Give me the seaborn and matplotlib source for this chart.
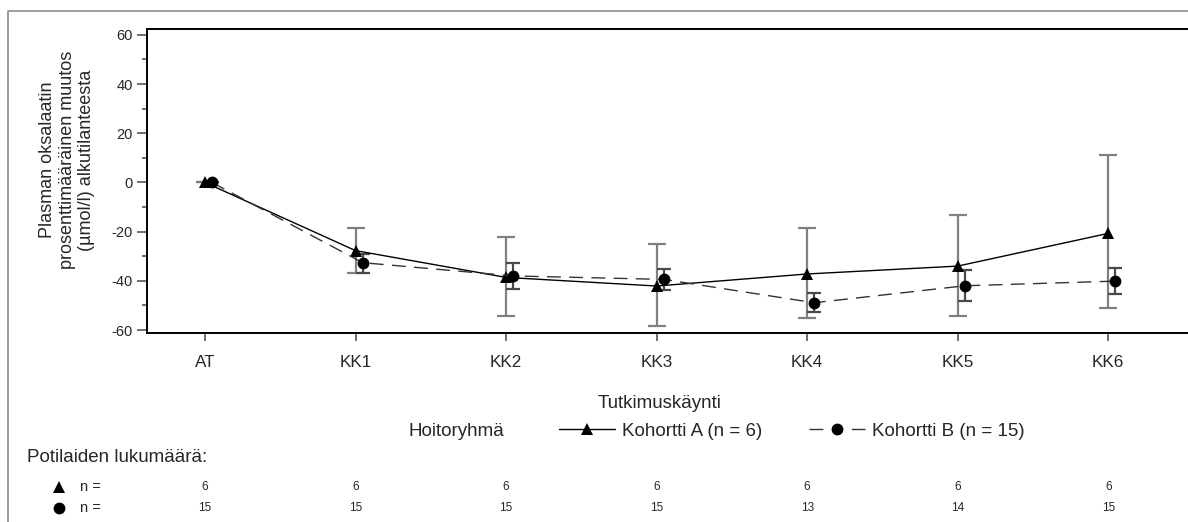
import numpy as np
import pandas as pd
import matplotlib
matplotlib.use("Agg")
import matplotlib.pyplot as plt
import matplotlib.transforms as mtransforms
from matplotlib.lines import Line2D
import seaborn as sns

# ---------------- data ----------------
visits = ["AT", "KK1", "KK2", "KK3", "KK4", "KK5", "KK6"]
a_mean = [0.0, -27.7, -38.6, -42.1, -37.2, -34.0, -20.7]
a_low = [0.0, -36.9, -54.2, -58.4, -55.0, -54.2, -51.2]
a_high = [0.0, -18.6, -22.3, -25.0, -18.4, -13.2, 11.1]
b_mean = [0.0, -32.6, -38.0, -39.4, -48.9, -42.0, -40.1]
b_low = [0.0, -36.9, -43.3, -43.7, -52.8, -48.1, -45.4]
b_high = [0.0, -29.1, -32.6, -35.3, -45.1, -35.6, -34.7]
n_a = [6, 6, 6, 6, 6, 6, 6]
n_b = [15, 15, 15, 15, 13, 14, 15]
label_a = "Kohortti A (n = 6)"
label_b = "Kohortti B (n = 15)"
ylabel = "Plasman oksalaatin\nprosenttimääräinen muutos\n(µmol/l) alkutilanteesta"
xlabel = "Tutkimuskäynti"
legend_title = "Hoitoryhmä"
count_title = "Potilaiden lukumäärä:"

# ---------------- style ----------------
sns.set_style("ticks")
plt.rcParams["font.family"] = ["Liberation Sans", "DejaVu Sans"]
plt.rcParams["axes.unicode_minus"] = False

W, H = 1188, 522
fig = plt.figure(figsize=(W / 100, H / 100), dpi=100)
ax = fig.add_axes([147 / W, 1 - 333 / H, 1 - 147 / W, (333 - 29) / H])

pos = np.arange(len(visits), dtype=float)
off_b = 0.047
df_a = pd.DataFrame({"x": pos, "y": a_mean})
df_b = pd.DataFrame({"x": pos + off_b, "y": b_mean})

# error bars
ax.errorbar(pos, a_mean,
            yerr=[np.array(a_mean) - np.array(a_low), np.array(a_high) - np.array(a_mean)],
            fmt="none", ecolor="#808080", elinewidth=1.6, capsize=6.5, capthick=1.6, zorder=2)
ax.errorbar(pos + off_b, b_mean,
            yerr=[np.array(b_mean) - np.array(b_low), np.array(b_high) - np.array(b_mean)],
            fmt="none", ecolor="#4a4a4a", elinewidth=1.6, capsize=5, capthick=1.6, zorder=2)

# lines with markers
sns.lineplot(data=df_a, x="x", y="y", ax=ax, color="black", linewidth=1.0,
             marker="^", markersize=8, markeredgewidth=0, estimator=None, sort=False,
             zorder=3)
sns.lineplot(data=df_b, x="x", y="y", ax=ax, color="#333333", linewidth=1.0,
             marker="o", markersize=8.5, markeredgewidth=0, markerfacecolor="black",
             estimator=None, sort=False, zorder=3)
ax.lines[-1].set_dashes((10, 6))

ax.set_xlim(-0.385, 6.53)
ax.set_ylim(-61.2, 62.4)
ax.set_xticks(pos)
ax.set_xticklabels(visits)
ax.set_yticks(np.arange(-60, 61, 20))
ax.set_yticks(np.arange(-50, 60, 20), minor=True)
ax.tick_params(axis="y", which="major", length=7, width=1.2, color="#555555",
               labelsize=10.5, pad=3)
ax.tick_params(axis="y", which="minor", length=3.5, width=1.2, color="#555555")
ax.tick_params(axis="x", which="major", length=6, width=1.2, color="#555555",
               labelsize=12.3, pad=10)
ax.set_xlabel("")
ax.set_ylabel("")
for s in ["left", "bottom", "top"]:
    ax.spines[s].set_linewidth(1.4)
    ax.spines[s].set_color("black")
ax.spines["right"].set_visible(False)

# outer frame (top + left)
fig.add_artist(Line2D([8 / W, 8 / W, 1.0], [0.0, 1 - 11 / H, 1 - 11 / H],
                      transform=fig.transFigure, color="#8a8a8a", linewidth=1.2))

# y label
fig.text(67 / W, 1 - 160 / H, ylabel, rotation=90, ha="center", va="center",
         multialignment="center", fontsize=13, linespacing=1.2)

# x label
fig.text(660 / W, 1 - 403 / H, xlabel, ha="center", va="center", fontsize=13.5)

# legend
fig.text(408 / W, 1 - 431 / H, legend_title, ha="left", va="center", fontsize=13.5)
h_a = Line2D([], [], color="black", linewidth=1.0, marker="^", markersize=8,
             markeredgewidth=0)
h_b = Line2D([], [], color="#333333", linewidth=1.0, marker="o", markersize=8.5,
             markeredgewidth=0, markerfacecolor="black", dashes=(10, 20.5))
fig.legend([h_a, h_b], [label_a, label_b], loc="center left",
           bbox_to_anchor=(559 / W, 1 - 431 / H), ncol=2, frameon=False,
           fontsize=13.5, handlelength=3.0, handletextpad=0.35, columnspacing=2.5,
           borderpad=0, borderaxespad=0)

# patient counts
fig.text(27 / W, 1 - 457 / H, count_title, ha="left", va="center", fontsize=13.5)
fig.add_artist(Line2D([59 / W], [1 - 487 / H], marker="^", markersize=8.5, color="black",
                      markeredgewidth=0, linestyle="none", transform=fig.transFigure))
fig.add_artist(Line2D([59 / W], [1 - 508 / H], marker="o", markersize=8.5, color="black",
                      markeredgewidth=0, linestyle="none", transform=fig.transFigure))
fig.text(80 / W, 1 - 487 / H, "n =", ha="left", va="center", fontsize=10.5)
fig.text(80 / W, 1 - 508 / H, "n =", ha="left", va="center", fontsize=10.5)
trans = mtransforms.blended_transform_factory(ax.transData, fig.transFigure)
for x, na, nb in zip(pos, n_a, n_b):
    ax.text(x, 1 - 487 / H, str(na), transform=trans, ha="center", va="center",
            fontsize=8.5, clip_on=False)
    ax.text(x, 1 - 508 / H, str(nb), transform=trans, ha="center", va="center",
            fontsize=8.5, clip_on=False)

fig.savefig("out.png", dpi=100)
